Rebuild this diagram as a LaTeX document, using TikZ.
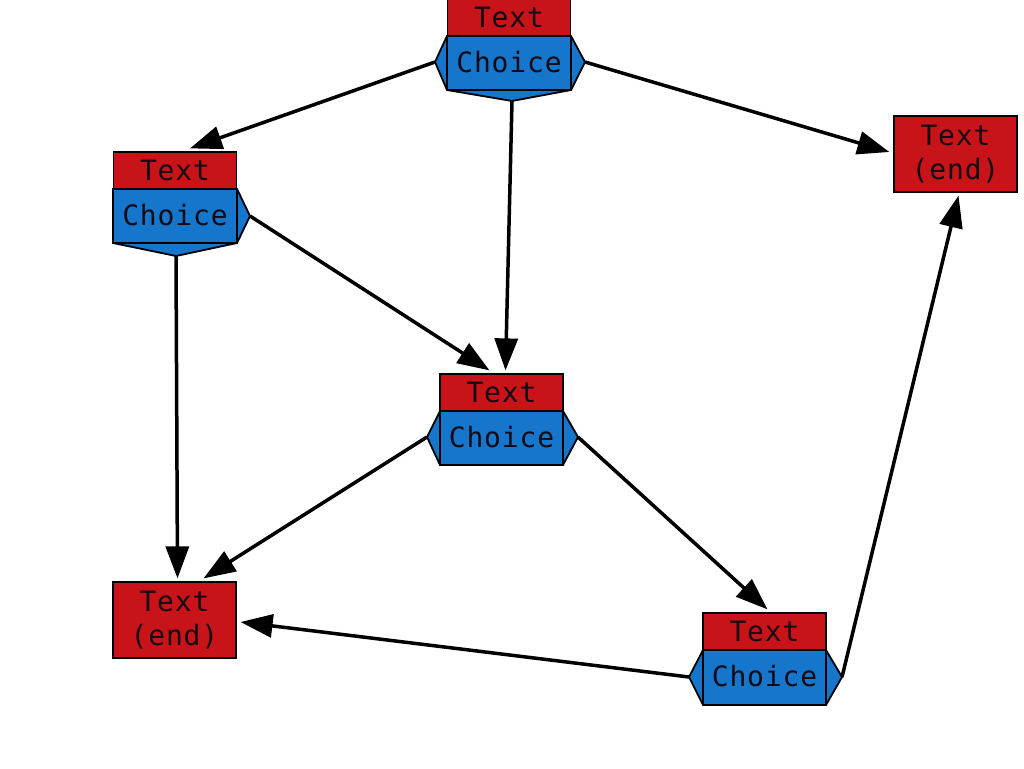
\documentclass[tikz,border=0pt]{standalone}
\usepackage{fontspec}
\newfontfamily\lblfont[LetterSpace=3]{DejaVu Sans Mono}
\usetikzlibrary{arrows.meta,calc}
\definecolor{boxred}{RGB}{200,20,24}
\definecolor{boxblue}{RGB}{22,118,204}
\definecolor{txt}{RGB}{20,10,20}
\tikzset{
  redbox/.style={draw=black,line width=1.2pt,fill=boxred,minimum width=123pt,minimum height=37pt,inner sep=0pt,
    font=\lblfont\fontsize{28}{34}\selectfont,text=txt},
  bluebox/.style={minimum width=123pt,minimum height=54pt,inner sep=0pt,
    font=\lblfont\fontsize{28}{34}\selectfont,text=txt},
  endbox/.style={redbox,minimum height=76pt,align=center},
  hexa/.style={draw=black,line width=1.8pt,fill=boxblue,line join=miter},
  link/.style={draw=black,line width=3.5pt,-{Triangle[length=32pt,width=23pt]}}
}
\begin{document}
\begin{tikzpicture}[x=1pt,y=-1pt]
\useasboundingbox[fill=white] (0,0) rectangle (1024,768);
% ---- choice shapes (blue polygons) ----
\draw[hexa] (447,36) -- (435,62) -- (447,90) -- (512,101) -- (571,90) -- (585,62) -- (571,36) -- cycle;
\draw[hexa] (447,90) -- (571,90);
\draw[hexa] (113,189) -- (113,243) -- (176,256) -- (237,243) -- (250,216) -- (237,189) -- cycle;
\draw[hexa] (113,243) -- (237,243);
\draw[hexa] (440,411) -- (427,437) -- (440,465) -- (563,465) -- (578,437) -- (563,411) -- cycle;
\draw[hexa] (703,650) -- (689,677) -- (703,705) -- (826,705) -- (842,677) -- (826,650) -- cycle;
% inner rectangle edges
\draw[black,line width=1.2pt] (447,36) -- (447,90) (571,36) -- (571,90);
\draw[black,line width=1.2pt] (237,189) -- (237,243);
\draw[black,line width=1.2pt] (440,411) -- (440,465) (563,411) -- (563,465);
\draw[black,line width=1.2pt] (703,650) -- (703,705) (826,650) -- (826,705);
% ---- nodes ----
\node[redbox] (tt) at (509,17.5) {Text};
\node[bluebox] (tc) at (509,62) {Choice};
\node[redbox] (lt) at (175,170.5) {Text};
\node[bluebox] (lc) at (175,215) {Choice};
\node[redbox] (mt) at (501.5,392.5) {Text};
\node[bluebox] (mc) at (501.5,437) {Choice};
\node[redbox] (bt) at (764.5,631.5) {Text};
\node[bluebox] (bc) at (764.5,676.5) {Choice};
\node[endbox] (re) at (955.5,154) {Text\\(end)};
\node[endbox] (le) at (174.5,620) {Text\\(end)};
% ---- ports ----
\coordinate (tL) at (435,62);
\coordinate (tB) at (512,101);
\coordinate (tR) at (585,62);
\coordinate (lR) at (250,216);
\coordinate (lB) at (176,256);
\coordinate (mL) at (427,437);
\coordinate (mR) at (578,437);
\coordinate (bL) at (689,677);
\coordinate (bR) at (842,677);
% ---- connectors ----
\draw[link] (tL) -- ($(lt.north)+(15,-3)$);
\draw[link] (tB) -- ($(mt.north)+(4,-3)$);
\draw[link] (tR) -- ($(re.west)+(-4,-2)$);
\draw[link] (lR) -- ($(mt.north)+(-12,-3)$);
\draw[link] (lB) -- ($(le.north)+(3,-3)$);
\draw[link] (mL) -- ($(le.north)+(29,-3)$);
\draw[link] (mR) -- ($(bt.north)+(3,-3)$);
\draw[link] (bL) -- ($(le.east)+(4,2)$);
\draw[link] (bR) -- ($(re.south)+(3,3)$);
\end{tikzpicture}
\end{document}
